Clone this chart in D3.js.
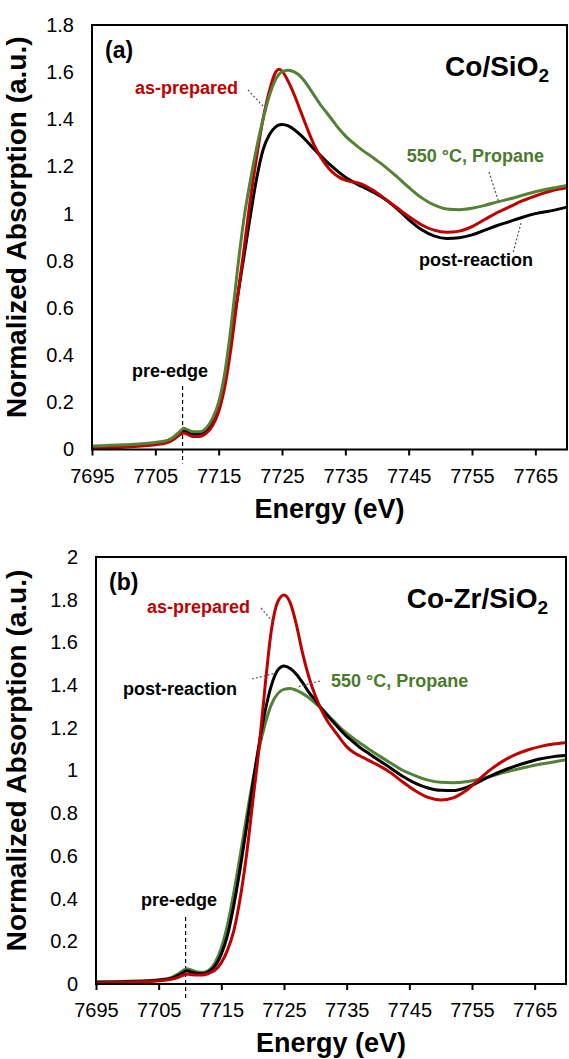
<!DOCTYPE html>
<html>
<head>
<meta charset="utf-8">
<script src="https://cdn.jsdelivr.net/npm/d3@7/dist/d3.min.js"></script>
<style>
  html, body { margin: 0; padding: 0; background: #fff; }
  svg { display: block; }
  text { font-family: "Liberation Sans", Arial, sans-serif; }
</style>
</head>
<body>
<svg id="chart" width="569" height="1059"></svg>
<script>
// ---------------- DATA ----------------
const xTicks = [7695, 7705, 7715, 7725, 7735, 7745, 7755, 7765];
const yTicksA = [0, 0.2, 0.4, 0.6, 0.8, 1, 1.2, 1.4, 1.6, 1.8];
const yTicksB = [0, 0.2, 0.4, 0.6, 0.8, 1, 1.2, 1.4, 1.6, 1.8, 2];

// Panel (a) Co/SiO2
const energyA = [7695, 7700, 7705, 7707, 7708, 7709, 7709.5, 7710, 7711, 7712, 7713, 7714, 7715, 7716, 7717, 7718, 7719, 7720, 7721, 7722, 7723, 7724, 7724.5, 7725, 7726, 7727, 7728, 7729, 7730, 7731, 7732, 7733, 7734, 7735, 7736, 7737, 7738, 7739, 7740, 7741, 7743, 7745, 7747, 7749, 7751, 7753, 7755, 7757, 7759, 7761, 7763, 7765, 7768, 7770];
const asPreparedA = [0.005, 0.01, 0.02, 0.03, 0.045, 0.065, 0.07, 0.065, 0.055, 0.055, 0.068, 0.1, 0.16, 0.27, 0.44, 0.65, 0.85, 1.06, 1.24, 1.4, 1.52, 1.6, 1.612, 1.605, 1.56, 1.5, 1.43, 1.36, 1.295, 1.245, 1.205, 1.175, 1.155, 1.142, 1.135, 1.13, 1.12, 1.105, 1.088, 1.068, 1.028, 0.988, 0.953, 0.93, 0.921, 0.926, 0.945, 0.975, 1.005, 1.03, 1.055, 1.075, 1.1, 1.11];
const propaneA = [0.015, 0.02, 0.03, 0.04, 0.055, 0.08, 0.09, 0.085, 0.075, 0.075, 0.09, 0.13, 0.2, 0.33, 0.53, 0.77, 0.98, 1.14, 1.28, 1.4, 1.5, 1.57, 1.59, 1.602, 1.608, 1.6, 1.58, 1.545, 1.505, 1.465, 1.43, 1.395, 1.36, 1.33, 1.305, 1.283, 1.263, 1.245, 1.225, 1.205, 1.16, 1.112, 1.068, 1.037, 1.02, 1.017, 1.023, 1.035, 1.05, 1.063, 1.078, 1.093, 1.11, 1.12];
const postReactionA = [0.01, 0.015, 0.025, 0.035, 0.05, 0.075, 0.08, 0.075, 0.065, 0.065, 0.078, 0.11, 0.18, 0.3, 0.48, 0.65, 0.82, 0.99, 1.15, 1.27, 1.335, 1.368, 1.376, 1.378, 1.372, 1.355, 1.332, 1.305, 1.275, 1.248, 1.222, 1.198, 1.175, 1.155, 1.138, 1.123, 1.11, 1.097, 1.083, 1.066, 1.025, 0.975, 0.933, 0.906, 0.895, 0.898, 0.91, 0.93, 0.95, 0.967, 0.985, 1.0, 1.015, 1.028];

// Panel (b) Co-Zr/SiO2
const energyB = [7695, 7700, 7705, 7707, 7708, 7709, 7709.5, 7710, 7711, 7712, 7713, 7714, 7715, 7716, 7717, 7718, 7719, 7720, 7721, 7722, 7723, 7724, 7725, 7726, 7727, 7728, 7729, 7730, 7731, 7732, 7733, 7734, 7735, 7736, 7737, 7738, 7739, 7740, 7742, 7744, 7746, 7748, 7750, 7752, 7754, 7756, 7758, 7760, 7762, 7764, 7766, 7768, 7770];
const asPreparedB = [0.005, 0.008, 0.015, 0.022, 0.03, 0.042, 0.046, 0.045, 0.042, 0.042, 0.05, 0.065, 0.1, 0.16, 0.25, 0.4, 0.6, 0.85, 1.1, 1.4, 1.66, 1.79, 1.822, 1.785, 1.68, 1.545, 1.435, 1.35, 1.282, 1.228, 1.188, 1.148, 1.112, 1.087, 1.07, 1.055, 1.04, 1.025, 0.99, 0.945, 0.904, 0.874, 0.862, 0.872, 0.905, 0.955, 1.005, 1.045, 1.075, 1.097, 1.113, 1.124, 1.13];
const propaneB = [0.01, 0.013, 0.02, 0.03, 0.045, 0.065, 0.072, 0.068, 0.058, 0.055, 0.065, 0.1, 0.17, 0.28, 0.43, 0.6, 0.78, 0.95, 1.1, 1.22, 1.31, 1.36, 1.38, 1.384, 1.375, 1.36, 1.34, 1.315, 1.29, 1.26, 1.23, 1.2, 1.175, 1.152, 1.131, 1.111, 1.091, 1.072, 1.035, 1.0, 0.975, 0.955, 0.945, 0.943, 0.947, 0.958, 0.973, 0.99, 1.005, 1.018, 1.03, 1.04, 1.05];
const postReactionB = [0.008, 0.01, 0.018, 0.026, 0.038, 0.055, 0.062, 0.058, 0.05, 0.048, 0.058, 0.085, 0.14, 0.23, 0.37, 0.54, 0.73, 0.93, 1.12, 1.28, 1.4, 1.47, 1.49, 1.478, 1.45, 1.41, 1.365, 1.33, 1.29, 1.255, 1.222, 1.19, 1.16, 1.135, 1.11, 1.09, 1.07, 1.05, 1.012, 0.972, 0.94, 0.918, 0.907, 0.906, 0.92, 0.945, 0.975, 1.0, 1.022, 1.04, 1.055, 1.065, 1.07];

const preEdgeEnergy = 7709.3;

// ---------------- DRAW ----------------
const RED = "#c00000", GREEN = "#538135", BLACK = "#000000", GREEN_TEXT = "#4a7a2c";
const svg = d3.select("#chart");

function panel(cfg) {
  const x = d3.scaleLinear().domain([7695, 7770]).range([cfg.left, cfg.right]);
  const y = d3.scaleLinear().domain([0, cfg.ymax]).range([cfg.bottom, cfg.top]);
  const g = svg.append("g");

  // x axis ticks (outward)
  const xAxis = d3.axisBottom(x).tickValues(xTicks).tickSize(6).tickSizeOuter(0).tickFormat(d3.format("d"));
  const gx = g.append("g").attr("transform", `translate(0,${cfg.bottom})`).call(xAxis);
  gx.select(".domain").remove();
  gx.selectAll(".tick line").attr("stroke", "#000").attr("stroke-width", 2);
  gx.selectAll(".tick text").attr("font-size", 20).attr("fill", "#000")
    .attr("y", 33).attr("dy", 0).style("font-family", "Liberation Sans, Arial, sans-serif");

  // y axis labels (no tick marks)
  const yAxis = d3.axisLeft(y).tickValues(cfg.yTicks).tickSize(0).tickFormat(d => String(d));
  const gy = g.append("g").attr("transform", `translate(${cfg.left},0)`).call(yAxis);
  gy.select(".domain").remove();
  gy.selectAll(".tick text").attr("font-size", 20).attr("fill", "#000")
    .attr("x", -18).style("font-family", "Liberation Sans, Arial, sans-serif");

  // pre-edge dashed line
  g.append("line").attr("x1", x(preEdgeEnergy)).attr("x2", x(preEdgeEnergy))
    .attr("y1", cfg.preEdge.y1).attr("y2", cfg.bottom + 14)
    .attr("stroke", "#000").attr("stroke-width", 1.2).attr("stroke-dasharray", "4,3");

  // curves
  const line = d3.line().x(d => x(d[0])).y(d => y(d[1])).curve(d3.curveMonotoneX);
  const clipId = "clip" + cfg.id;
  svg.append("clipPath").attr("id", clipId).append("rect")
    .attr("x", cfg.left).attr("y", cfg.top).attr("width", cfg.right - cfg.left).attr("height", cfg.bottom - cfg.top);
  cfg.series.forEach(s => {
    g.append("path").datum(cfg.energy.map((e, i) => [e, s.values[i]]))
      .attr("d", line).attr("fill", "none").attr("stroke", s.color)
      .attr("stroke-width", 3).attr("stroke-linejoin", "round")
      .attr("clip-path", `url(#${clipId})`);
  });

  // frame on top
  g.append("rect").attr("x", cfg.left).attr("y", cfg.top)
    .attr("width", cfg.right - cfg.left).attr("height", cfg.bottom - cfg.top)
    .attr("fill", "none").attr("stroke", "#000").attr("stroke-width", 2);

  // axis titles
  g.append("text").attr("x", (cfg.left + cfg.right) / 2).attr("y", cfg.bottom + 68)
    .attr("text-anchor", "middle").attr("font-size", 27).attr("font-weight", "bold")
    .text("Energy (eV)");
  g.append("text").attr("transform", `translate(26,${(cfg.top + cfg.bottom) / 2 - 10}) rotate(-90)`)
    .attr("text-anchor", "middle").attr("font-size", 28).attr("font-weight", "bold")
    .text("Normalized Absorption (a.u.)");

  // panel letter
  g.append("text").attr("x", cfg.left + 13).attr("y", cfg.top + 33)
    .attr("font-size", 23).attr("font-weight", "bold").text(cfg.letter);

  // sample name with subscript
  const t = g.append("text").attr("x", cfg.right - 18).attr("y", cfg.top + 51)
    .attr("text-anchor", "end").attr("font-size", 28).attr("font-weight", "bold");
  t.append("tspan").text(cfg.sample);
  t.append("tspan").attr("font-size", 19).attr("dy", 6).text("2");

  // annotations
  cfg.notes.forEach(n => {
    g.append("text").attr("x", n.x).attr("y", n.y).attr("text-anchor", n.anchor || "start")
      .attr("font-size", 18).attr("font-weight", "bold").attr("fill", n.color).text(n.text);
    if (n.leader) {
      g.append("line").attr("x1", n.leader[0]).attr("y1", n.leader[1])
        .attr("x2", n.leader[2]).attr("y2", n.leader[3])
        .attr("stroke", "#555").attr("stroke-width", 1.2).attr("stroke-dasharray", "2,2");
    }
  });
}

panel({
  id: "a", left: 92, right: 567, top: 25, bottom: 449.5, ymax: 1.8, yTicks: yTicksA,
  energy: energyA, letter: "(a)", sample: "Co/SiO",
  series: [
    { values: postReactionA, color: BLACK },
    { values: asPreparedA, color: RED },
    { values: propaneA, color: GREEN }
  ],
  preEdge: { y1: 386 },
  notes: [
    { text: "as-prepared", x: 238, y: 94, anchor: "end", color: RED, leader: [248, 90, 263, 106] },
    { text: "550 °C, Propane", x: 544, y: 162, anchor: "end", color: GREEN_TEXT, leader: [489, 172, 499, 203] },
    { text: "post-reaction", x: 533, y: 266, anchor: "end", color: BLACK, leader: [521, 223, 513, 253] },
    { text: "pre-edge", x: 132, y: 377, color: BLACK }
  ]
});

panel({
  id: "b", left: 96, right: 566, top: 557, bottom: 984, ymax: 2, yTicks: yTicksB,
  energy: energyB, letter: "(b)", sample: "Co-Zr/SiO",
  series: [
    { values: propaneB, color: GREEN },
    { values: postReactionB, color: BLACK },
    { values: asPreparedB, color: RED }
  ],
  preEdge: { y1: 917 },
  notes: [
    { text: "as-prepared", x: 250, y: 613, anchor: "end", color: RED, leader: [261, 608, 273, 622] },
    { text: "post-reaction", x: 237, y: 695, anchor: "end", color: BLACK, leader: [252, 679, 276, 673] },
    { text: "550 °C, Propane", x: 331, y: 687, color: GREEN_TEXT, leader: [320, 681, 297, 687] },
    { text: "pre-edge", x: 141, y: 906, color: BLACK }
  ]
});
</script>
</body>
</html>
